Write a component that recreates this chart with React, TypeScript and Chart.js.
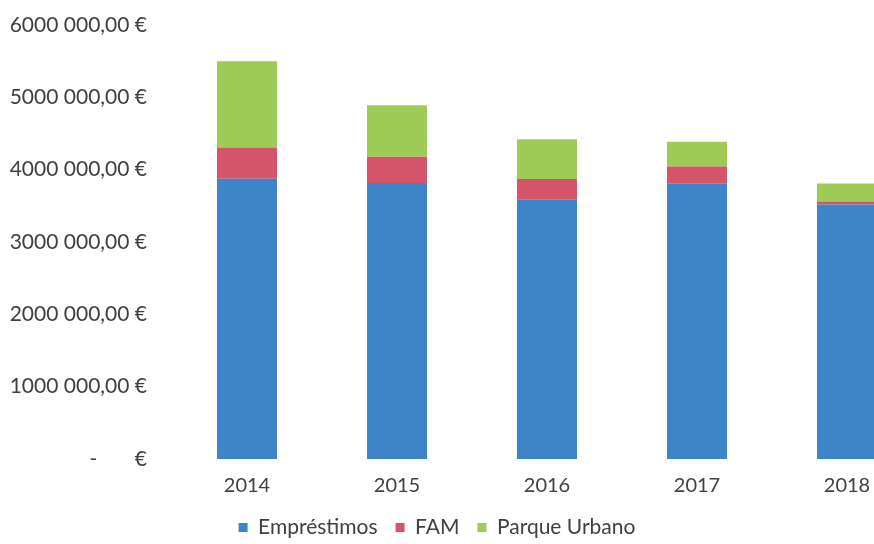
import React, { useEffect, useRef } from "react";
import { Chart, registerables } from "chart.js";

Chart.register(...registerables);

const categories = ["2014", "2015", "2016", "2017", "2018"];
const emprestimos = [3875000, 3815000, 3590000, 3805000, 3520000];
const fam = [430000, 365000, 280000, 240000, 40000];
const parqueUrbano = [1195000, 710000, 550000, 340000, 250000];
const yTickValues = [0, 1000000, 2000000, 3000000, 4000000, 5000000, 6000000];
const yTickLabels = [
  "-       €",
  "1000 000,00 €",
  "2000 000,00 €",
  "3000 000,00 €",
  "4000 000,00 €",
  "5000 000,00 €",
  "6000 000,00 €",
];

const VISIBLE_W = 874;
const CANVAS_W = 924;
const CANVAS_H = 544;
const TEXT = "#404040";

export default function App() {
  const ref = useRef<HTMLCanvasElement | null>(null);

  useEffect(() => {
    if (!ref.current) return;
    const legendCenter = {
      id: "legendCenter",
      afterLayout(chart: any) {
        if (chart.legend) {
          chart.legend.left = 0;
          chart.legend.right = VISIBLE_W;
        }
      },
    };
    const chart = new Chart(ref.current, {
      type: "bar",
      data: {
        labels: categories,
        datasets: [
          { label: "Empréstimos", data: emprestimos, backgroundColor: "#3D85C6" },
          { label: "FAM", data: fam, backgroundColor: "#D4546A" },
          { label: "Parque Urbano", data: parqueUrbano, backgroundColor: "#9ECB56" },
        ],
      },
      options: {
        responsive: false,
        animation: false,
        layout: { padding: { top: 25, left: 8, right: 2, bottom: -4 } },
        datasets: { bar: { barPercentage: 0.4, categoryPercentage: 1.0 } },
        scales: {
          x: {
            stacked: true,
            grid: { display: false, drawTicks: false },
            border: { display: false },
            ticks: { color: TEXT, font: { family: "Lato", size: 20 }, padding: 15, maxRotation: 0, autoSkip: false },
            afterFit(scale: any) {
              scale.height = 40;
            },
          },
          y: {
            stacked: true,
            min: 0,
            max: 6000000,
            grid: { display: false, drawTicks: false },
            border: { display: false },
            afterBuildTicks(scale: any) {
              scale.ticks = yTickValues.map((v) => ({ value: v }));
            },
            ticks: {
              color: TEXT,
              font: { family: "Lato", size: 21 },
              padding: 25,
              callback: (value: any) => {
                const i = yTickValues.indexOf(Number(value));
                return i >= 0 ? yTickLabels[i] : "";
              },
            },
            afterFit(scale: any) {
              scale.width = 164;
              scale.paddingTop = 0;
              scale.paddingBottom = 0;
            },
          },
        },
        plugins: {
          legend: {
            position: "bottom",
            labels: {
              color: TEXT,
              font: { family: "Lato", size: 21 },
              boxWidth: 9,
              boxHeight: 9,
              padding: 18,
            },
          },
          tooltip: { enabled: false },
        },
      },
      plugins: [legendCenter],
    });
    return () => chart.destroy();
  }, []);

  return (
    <div
      style={{
        position: "fixed",
        left: 0,
        top: 0,
        width: VISIBLE_W,
        height: CANVAS_H,
        overflow: "hidden",
        background: "#ffffff",
      }}
    >
      <canvas ref={ref} width={CANVAS_W} height={CANVAS_H} style={{ display: "block" }} />
    </div>
  );
}
